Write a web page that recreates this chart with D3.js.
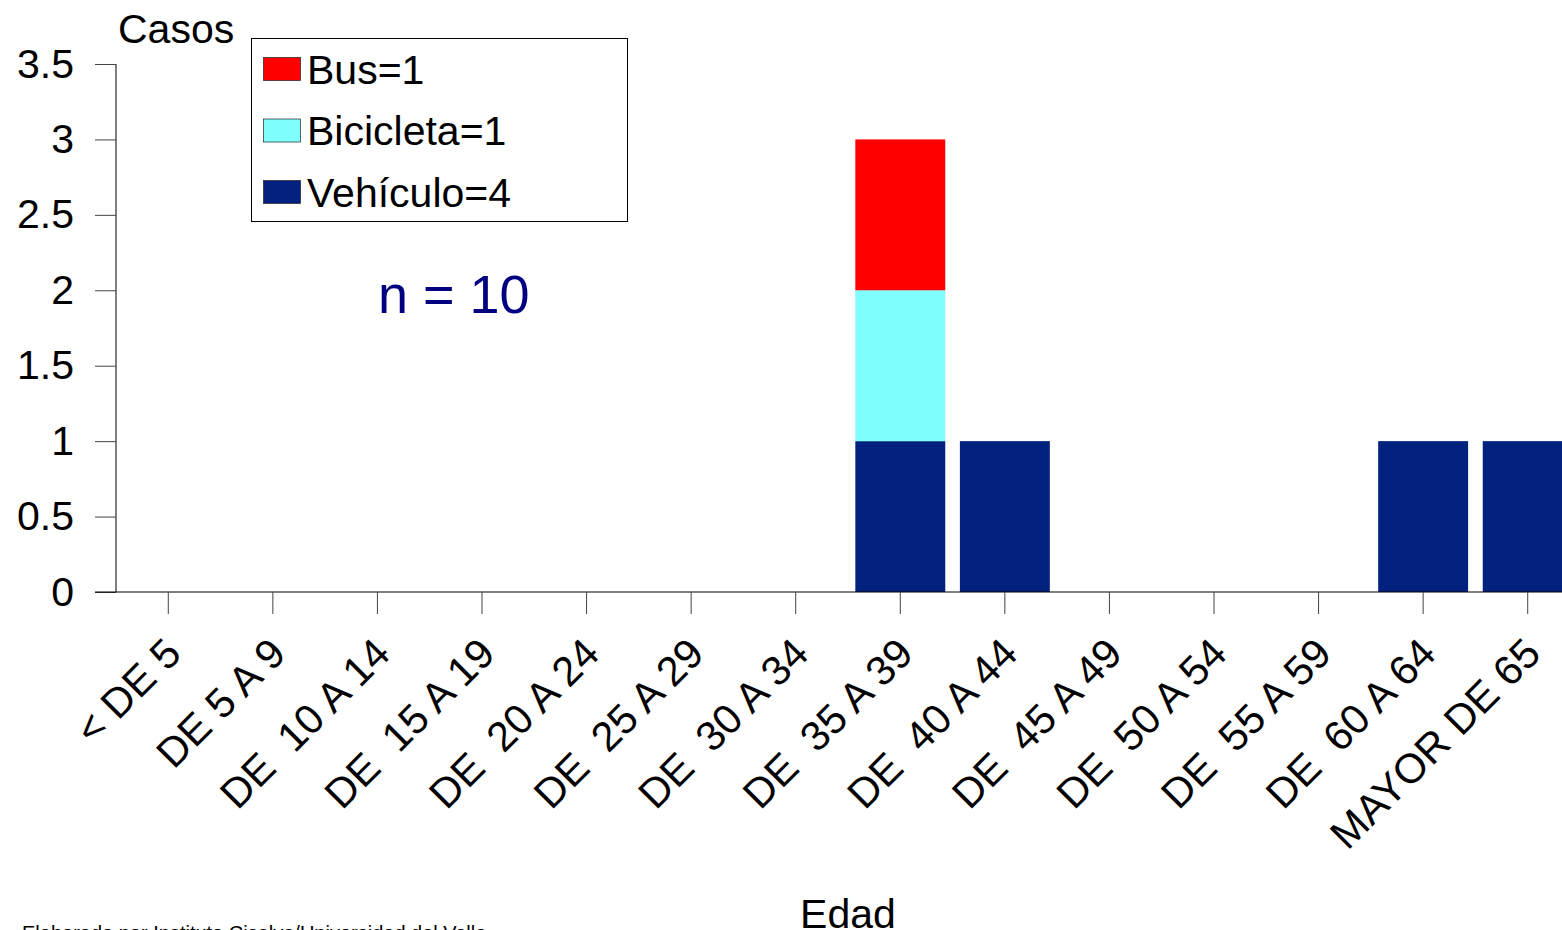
<!DOCTYPE html>
<html><head><meta charset="utf-8">
<script src="https://cdn.jsdelivr.net/npm/d3@7"></script>
<style>
html,body{margin:0;padding:0;background:#fff;overflow:hidden}
text{font-family:"Liberation Sans",Arial,sans-serif}
</style></head>
<body><svg id="c" width="1562" height="930"></svg>
<script>
const categories = ["< DE 5","DE 5 A 9","DE  10 A 14","DE  15 A 19","DE  20 A 24","DE  25 A 29","DE  30 A 34","DE  35 A 39","DE  40 A 44","DE  45 A 49","DE  50 A 54","DE  55 A 59","DE  60 A 64","MAYOR DE 65"];
const vehiculo  = [0,0,0,0,0,0,0,1,1,0,0,0,1,1];
const bicicleta = [0,0,0,0,0,0,0,1,0,0,0,0,0,0];
const bus       = [0,0,0,0,0,0,0,1,0,0,0,0,0,0];
const seriesNames = ["Vehículo","Bicicleta","Bus"];
const seriesColors = ["#00217e","#80ffff","#ff0000"];
const legendLabels = ["Bus=1","Bicicleta=1","Vehículo=4"];
const legendColors = ["#ff0000","#80ffff","#00217e"];
const yTicks = [0,0.5,1,1.5,2,2.5,3,3.5];

const svg = d3.select("#c");
const x = d3.scaleBand().domain(categories).range([116,1580]).paddingInner(0.14).paddingOuter(0.07);
const y = d3.scaleLinear().domain([0,3.5]).range([592,64]);

const rows = categories.map((c,i)=>({cat:c,"Vehículo":vehiculo[i],"Bicicleta":bicicleta[i],"Bus":bus[i]}));
const stack = d3.stack().keys(seriesNames)(rows);

svg.append("g").selectAll("g").data(stack).join("g")
  .attr("fill",(d,i)=>seriesColors[i])
  .selectAll("rect").data(d=>d.filter(p=>p[1]-p[0]>0)).join("rect")
  .attr("x",d=>x(d.data.cat)).attr("width",x.bandwidth())
  .attr("y",d=>y(d[1])).attr("height",d=>y(d[0])-y(d[1]));

// Y axis
const ya = svg.append("g").attr("transform","translate(116,0)")
  .call(d3.axisLeft(y).tickValues(yTicks).tickSize(21).tickPadding(21).tickFormat(d3.format("")));
ya.select(".domain").attr("stroke","#000").attr("d","M0,64V592");
ya.selectAll(".tick line").attr("stroke","#444");
ya.selectAll(".tick text").attr("font-size",41).attr("fill","#000").attr("font-family","Liberation Sans, Arial, sans-serif");

// X axis
const xa = svg.append("g").attr("transform","translate(0,592)")
  .call(d3.axisBottom(x).tickSize(22).tickFormat(""));
xa.select(".domain").attr("stroke","#000").attr("d","M95,0H1562");
xa.selectAll(".tick line").attr("stroke","#444");
xa.selectAll(".tick").append("text")
  .attr("transform","translate(15,64) rotate(-45)")
  .attr("text-anchor","end").attr("font-size",41.5).attr("fill","#000")
  .style("white-space","pre")
  .attr("font-family","Liberation Sans, Arial, sans-serif")
  .text(d=>d);

// Titles
svg.append("text").attr("x",118).attr("y",43).attr("font-size",41).text("Casos");
svg.append("text").attr("x",848).attr("y",928).attr("text-anchor","middle").attr("font-size",41).text("Edad");
svg.append("text").attr("x",378).attr("y",313).attr("font-size",54).attr("fill","#000080").text("n = 10");
svg.append("text").attr("x",22).attr("y",940).attr("font-size",20).text("Elaborado por Instituto Cisalva/Universidad del Valle");

// Legend
const lg = svg.append("g");
lg.append("rect").attr("x",251.5).attr("y",38.5).attr("width",376).attr("height",183).attr("fill","#fff").attr("stroke","#000");
const ly = d3.scalePoint().domain(legendLabels).range([68.5,191.5]);
legendLabels.forEach((l,i)=>{
  lg.append("rect").attr("x",263.5).attr("y",ly(l)-11).attr("width",37).attr("height",23).attr("fill",legendColors[i]).attr("stroke","#222").attr("stroke-width",0.7);
  lg.append("text").attr("x",307).attr("y",ly(l)+15).attr("font-size",41).text(l);
});
</script></body></html>
